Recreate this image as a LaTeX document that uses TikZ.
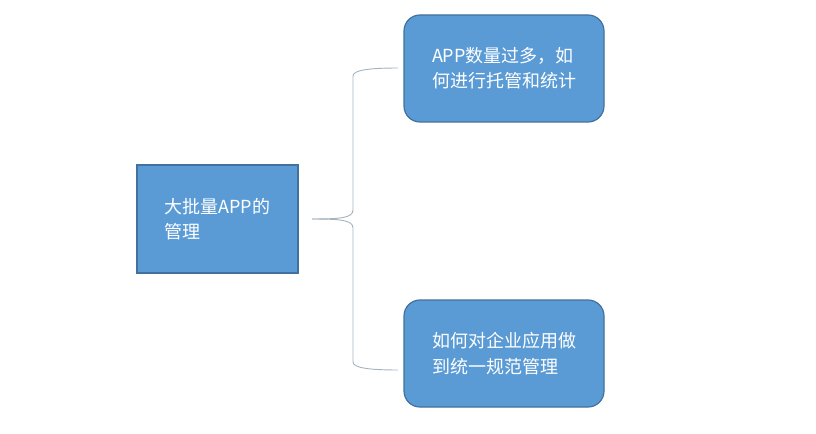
\documentclass[tikz,border=0pt]{standalone}
\usepackage{fontspec}
\setmainfont{Noto Sans CJK SC}
\begin{document}
\begin{tikzpicture}[x=0.75pt,y=-0.75pt,
  box/.style={fill=boxblue,draw=boxedge,line width=0.9pt,text=white,font=\fontsize{13.5}{19}\selectfont,align=left,inner sep=0pt},
  brace/.style={draw=bracegray,line width=0.7pt}]
\definecolor{boxblue}{HTML}{5B9BD5}
\definecolor{boxedge}{HTML}{41719C}
\definecolor{bracegray}{HTML}{A6B4C0}
\useasboundingbox (0,0) rectangle (816,434);
\node[box,minimum width=161*0.75pt,minimum height=108*0.75pt] (main) at (217.5,219) {大批量APP的\\管理};
\node[box,rounded corners=12pt,minimum width=200*0.75pt,minimum height=107*0.75pt] (top) at (504,68.5) {APP数量过多，如\\何进行托管和统计};
\node[box,rounded corners=12pt,minimum width=200*0.75pt,minimum height=107*0.75pt] (bot) at (504,353.5) {如何对企业应用做\\到统一规范管理};
\coordinate (tip) at (312,219);
\coordinate (te) at (398,68);
\coordinate (be) at (398,370);
\draw[brace] (tip) .. controls (340,219) and (353,218) .. (353,210) -- (353,76)
  .. controls (353,70) and (370,68) .. (te);
\draw[brace] (tip) .. controls (340,219) and (353,220) .. (353,228) -- (353,362)
  .. controls (353,368) and (370,370) .. (be);
\end{tikzpicture}
\end{document}
